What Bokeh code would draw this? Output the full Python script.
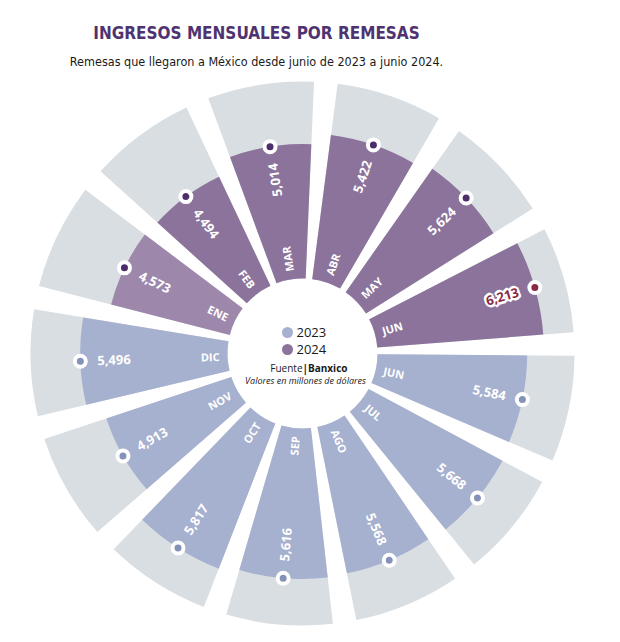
import numpy as np
from bokeh.plotting import figure
from bokeh.models import Range1d, ColumnDataSource
from bokeh.core.properties import value
from bokeh.embed import file_html
from bokeh.resources import INLINE

# ---- data ----
months = ["JUN", "JUL", "AGO", "SEP", "OCT", "NOV", "DIC",
          "ENE", "FEB", "MAR", "ABR", "MAY", "JUN"]
years = [2023, 2023, 2023, 2023, 2023, 2023, 2023,
         2024, 2024, 2024, 2024, 2024, 2024]
remesas = [5584, 5668, 5568, 5616, 5817, 4913, 5496,
           4573, 4494, 5014, 5422, 5624, 6213]
value_labels = ["5,584", "5,668", "5,568", "5,616", "5,817", "4,913", "5,496",
                "4,573", "4,494", "5,014", "5,422", "5,624", "6,213"]
legend_years = ["2023", "2024"]

# ---- style ----
C23 = "#a6b0cf"
C24 = "#8b739b"
C_ENE = "#9d88ac"
DOT23 = "#8592b8"
DOT24 = "#4c2e6a"
HIGHLIGHT = "#8b2a45"
TRACK = "#d9dee2"
TITLE_C = "#4f3370"
COND = "'DejaVu Sans Condensed', 'Roboto', sans-serif"

R_IN = 75.0
R_OUT = 272.0
VMAX = 7350.0
def rscale(v):
    return R_IN + (R_OUT - R_IN) * np.asarray(v, dtype=float) / VMAX

n = len(months)
step = 2 * np.pi / n
start0 = np.deg2rad(2.0)
gap = np.deg2rad(5.0)
idx = np.arange(n)
centers = start0 - (idx + 0.5) * step
half = (step - gap) / 2

r_bar = rscale(remesas)
bar_colors = [C23 if y == 2023 else C24 for y in years]
bar_colors[7] = C_ENE
dot_colors = [DOT23 if y == 2023 else DOT24 for y in years]
dot_colors[-1] = HIGHLIGHT

deg = np.mod(np.rad2deg(centers), 360)
flip = (deg > 100) & (deg < 270)
text_ang = np.where(flip, centers + np.pi, centers)

r_m = 83.0
m_align = ["right" if f else "left" for f in flip]
r_v = r_bar - 17.0
v_align = ["left" if f else "right" for f in flip]
v_colors = ["white"] * n
v_colors[-1] = HIGHLIGHT

src = ColumnDataSource(dict(
    start=centers - half, end=centers + half, r=r_bar, col=bar_colors,
    dx=r_bar * np.cos(centers), dy=r_bar * np.sin(centers), dcol=dot_colors,
    mx=r_m * np.cos(centers), my=r_m * np.sin(centers), month=months,
    malign=m_align, ang=text_ang,
    vx=r_v * np.cos(centers), vy=r_v * np.sin(centers), vlab=value_labels,
    valign=v_align, vcol=v_colors,
))

p = figure(width=604, height=626, output_backend="svg", toolbar_location=None,
           x_range=Range1d(-302, 302), y_range=Range1d(-273, 353),
           x_axis_location=None, y_axis_location=None, min_border=0,
           outline_line_color=None, background_fill_color="white",
           border_fill_color="white")
p.grid.visible = False

p.annular_wedge(x=0, y=0, inner_radius=R_IN, outer_radius=R_OUT,
                start_angle="start", end_angle="end", source=src,
                fill_color=TRACK, line_color=None)
p.annular_wedge(x=0, y=0, inner_radius=R_IN, outer_radius="r",
                start_angle="start", end_angle="end", source=src,
                fill_color="col", line_color=None)
p.scatter(x="dx", y="dy", source=src, size=11, fill_color="dcol",
          line_color="white", line_width=4)

p.text(x="mx", y="my", text="month", angle="ang", source=src,
       text_align="malign", text_baseline="middle", text_color="white",
       text_font=value("Open Sans"), text_font_style="bold",
       text_font_size="11px")

hx, hy = src.data["vx"][-1], src.data["vy"][-1]
for ox, oy in [(2, 0), (-2, 0), (0, 2), (0, -2), (1.5, 1.5), (-1.5, 1.5),
               (1.5, -1.5), (-1.5, -1.5), (2.5, 1), (-2.5, -1), (1, 2.5), (-1, -2.5)]:
    p.text(x=[hx], y=[hy], text=[value_labels[-1]], angle=[text_ang[-1]],
           x_offset=ox, y_offset=oy,
           text_align=v_align[-1], text_baseline="middle", text_color="white",
           text_font=value("Open Sans"), text_font_style="bold",
           text_font_size="13px")

p.text(x="vx", y="vy", text="vlab", angle="ang", source=src,
       text_align="valign", text_baseline="middle", text_color="vcol",
       text_font=value("Open Sans"), text_font_style="bold",
       text_font_size="13px")

p.scatter(x=[-15, -15], y=[21, 4], size=11, fill_color=[C23, C24],
          line_color=None)
p.text(x=[-6, -6], y=[21, 4], text=legend_years, text_align="left",
       text_baseline="middle", text_color="#1a1a1a",
       text_font=value("Open Sans"), text_font_size="13px")
p.text(x=[0], y=[-14], text=["Fuente"], text_align="right",
       text_baseline="middle", text_color="#1a1a1a",
       text_font=value("Open Sans"), text_font_size="10px")
p.text(x=[0], y=[-14], text=["|Banxico"], text_align="left",
       text_baseline="middle", text_color="#1a1a1a",
       text_font=value("Open Sans"), text_font_style="bold",
       text_font_size="10px")
p.text(x=[3], y=[-27], text=["Valores en millones de dólares"],
       text_align="center", text_baseline="middle", text_color="#1a1a1a",
       text_font=value("Open Sans"), text_font_style="italic",
       text_font_size="9px")

p.text(x=[-46], y=[321], text=["INGRESOS MENSUALES POR REMESAS"],
       text_align="center", text_baseline="middle", text_color=TITLE_C,
       text_font=value(COND), text_font_style="bold",
       text_font_size="17px")
p.text(x=[-46], y=[292], text=["Remesas que llegaron a México desde junio de 2023 a junio 2024."],
       text_align="center", text_baseline="middle", text_color="#1a1a1a",
       text_font=value(COND),
       text_font_size="12.5px")

open("out.html", "w").write(file_html(p, INLINE))
